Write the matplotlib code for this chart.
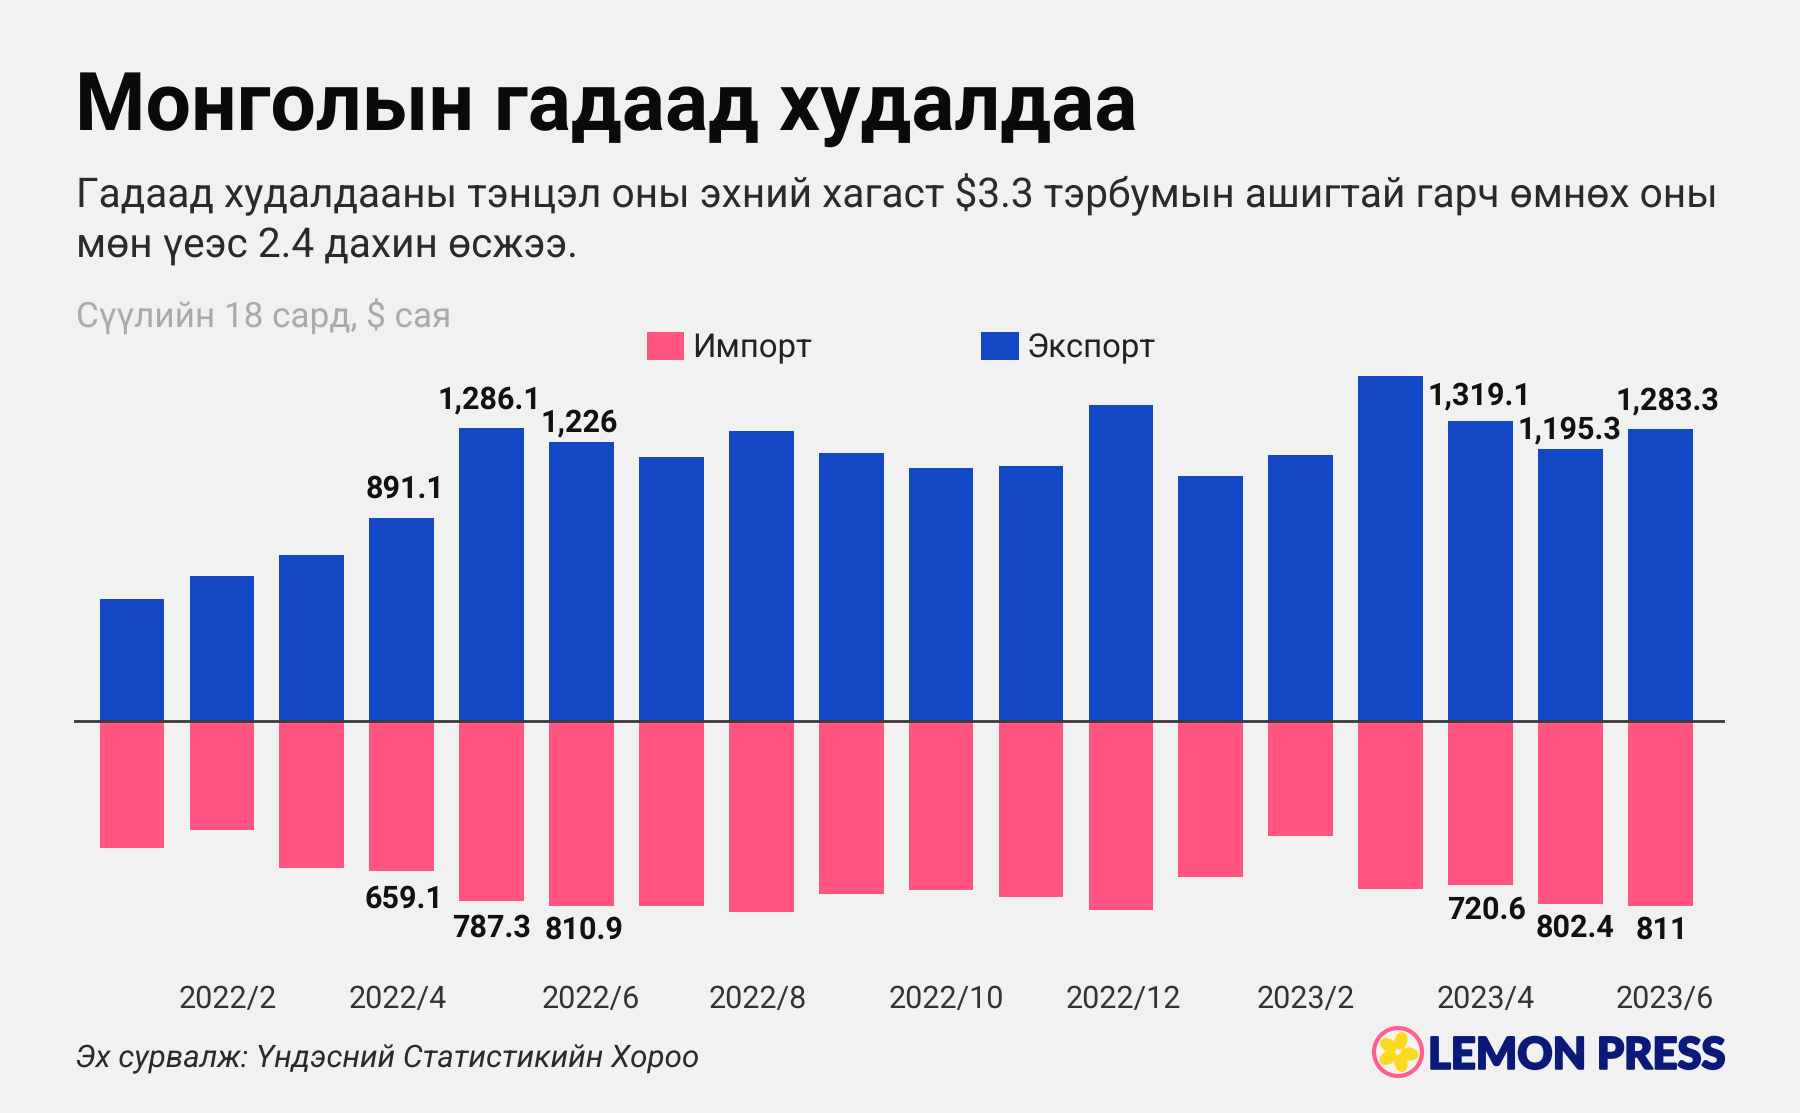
import numpy as np
import matplotlib
matplotlib.use('Agg')
import matplotlib.pyplot as plt
import matplotlib.patheffects as pe
from matplotlib.patches import Circle, Ellipse

plt.rcParams['font.family'] = ['Roboto', 'DejaVu Sans']
plt.rcParams['text.hinting'] = 'none'

# Data
months = ['2022/1', '2022/2', '2022/3', '2022/4', '2022/5', '2022/6', '2022/7', '2022/8', '2022/9',
          '2022/10', '2022/11', '2022/12', '2023/1', '2023/2', '2023/3', '2023/4', '2023/5', '2023/6']
export_vals = [539, 640, 731, 891.1, 1286.1, 1226, 1159, 1275, 1179,
               1114, 1119, 1391, 1079, 1169, 1517, 1319.1, 1195.3, 1283.3]
import_vals = [554, 479, 645, 659.1, 787.3, 810.9, 811, 837, 756,
               741, 771, 827, 685, 504, 736, 720.6, 802.4, 811]
tick_idx = [1, 3, 5, 7, 9, 11, 13, 15, 17]
export_labels = {3: '891.1', 4: '1,286.1', 5: '1,226', 15: '1,319.1', 16: '1,195.3', 17: '1,283.3'}
import_labels = {3: '659.1', 4: '787.3', 5: '810.9', 15: '720.6', 16: '802.4', 17: '811'}

# small nudges so labels sit where the original has them (points)
export_offs = {3: (2.5, 10), 4: (-1.5, 10), 5: (-1.5, 3), 15: (-1, 7), 16: (-1, 3), 17: (5, 9.5)}
import_offs = {3: (1.5, -9), 4: (0, -9.5), 5: (1.5, -7), 15: (4, -7.5), 16: (3.5, -7), 17: (1, -7)}
tick_shift = [0.06, -0.04, 0.10, -0.04, 0.06, 0.03, 0.06, 0.06, 0.05]

BG = '#f1f1f1'
W, H = 1800, 1113
x = np.arange(len(months))

fig = plt.figure(figsize=(18, 11.13), dpi=100, facecolor=BG)

def px_text(px, py, s, **kw):
    return fig.text(px / W, 1 - py / H, s, **kw)

# main axes, pixel box worked out from the picture
ax = fig.add_axes([73.5 / W, 1 - 975.3 / H, (1725 - 73.5) / W, (975 - 340) / H], facecolor='none')
ax.set_xlim(-0.651, 17.72)
ax.set_ylim(-1115, 1673)

b1 = ax.bar(x, -np.array(import_vals), width=0.72, color='#ff5580', label='Импорт')
b2 = ax.bar(x, export_vals, width=0.72, color='#1347c4', label='Экспорт')
ax.axhline(0, color='#3a3a3a', lw=2, zorder=5)

for s in ax.spines.values():
    s.set_visible(False)
ax.set_yticks([])
ax.set_xticks(np.array(tick_idx) + np.array(tick_shift))
ax.set_xticklabels([months[i] for i in tick_idx], fontsize=22, color='#333333')
ax.tick_params(axis='x', length=0, pad=7)

# data labels
for i, lab in export_labels.items():
    ax.annotate(lab, (i, export_vals[i]), xytext=export_offs[i], textcoords='offset points',
                ha='center', va='bottom', fontsize=22, fontweight='bold', color='#111111')
for i, lab in import_labels.items():
    ax.annotate(lab, (i, -import_vals[i]), xytext=import_offs[i], textcoords='offset points',
                ha='center', va='top', fontsize=22, fontweight='bold', color='#111111')

fig.legend(handles=[b1, b2], loc='center left', bbox_to_anchor=(617 / W, 1 - 348 / H), ncol=2, frameon=False,
           fontsize=23.7, handlelength=1.14, handleheight=0.95, columnspacing=5.15, handletextpad=0.24,
           labelcolor='#222222')

# headings
px_text(75, 108, 'Монголын гадаад худалдаа', fontsize=58, fontweight='bold', color='#0a0a0a', va='center')
px_text(76, 195, 'Гадаад худалдааны тэнцэл оны эхний хагаст $3.3 тэрбумын ашигтай гарч өмнөх оны',
        fontsize=29.25, color='#2a2a2a', va='center')
px_text(76, 245, 'мөн үеэс 2.4 дахин өсжээ.', fontsize=29.25, color='#2a2a2a', va='center')
px_text(76, 317, 'Сүүлийн 18 сард, $ сая', fontsize=25.3, color='#aaaaaa', va='center')
px_text(75, 1059, 'Эх сурвалж: Үндэсний Статистикийн Хороо', fontsize=22.6, style='italic', color='#2a2a2a', va='center')

# logo
ov = fig.add_axes([0, 0, 1, 1], facecolor='none')
ov.set_xlim(0, W)
ov.set_ylim(H, 0)
ov.axis('off')
ov.add_patch(Circle((1398, 1052), 24, fc='#f7f4ee', ec='#ff5f8a', lw=3))
for ang in [10, 75, 150, 215, 285]:
    a = np.deg2rad(ang)
    ov.add_patch(Ellipse((1398 + 11.5 * np.cos(a), 1052 + 11.5 * np.sin(a)), 18, 13, angle=ang, fc='#fcd920', ec='none'))
logo = px_text(1428, 1056, 'LEMON PRESS', fontsize=31.4, fontweight='black', family='Lato', color='#0b1a78', va='center')
logo.set_path_effects([pe.withStroke(linewidth=1.5, foreground='#0b1a78')])

fig.savefig('out.png', dpi=100, facecolor=BG)
